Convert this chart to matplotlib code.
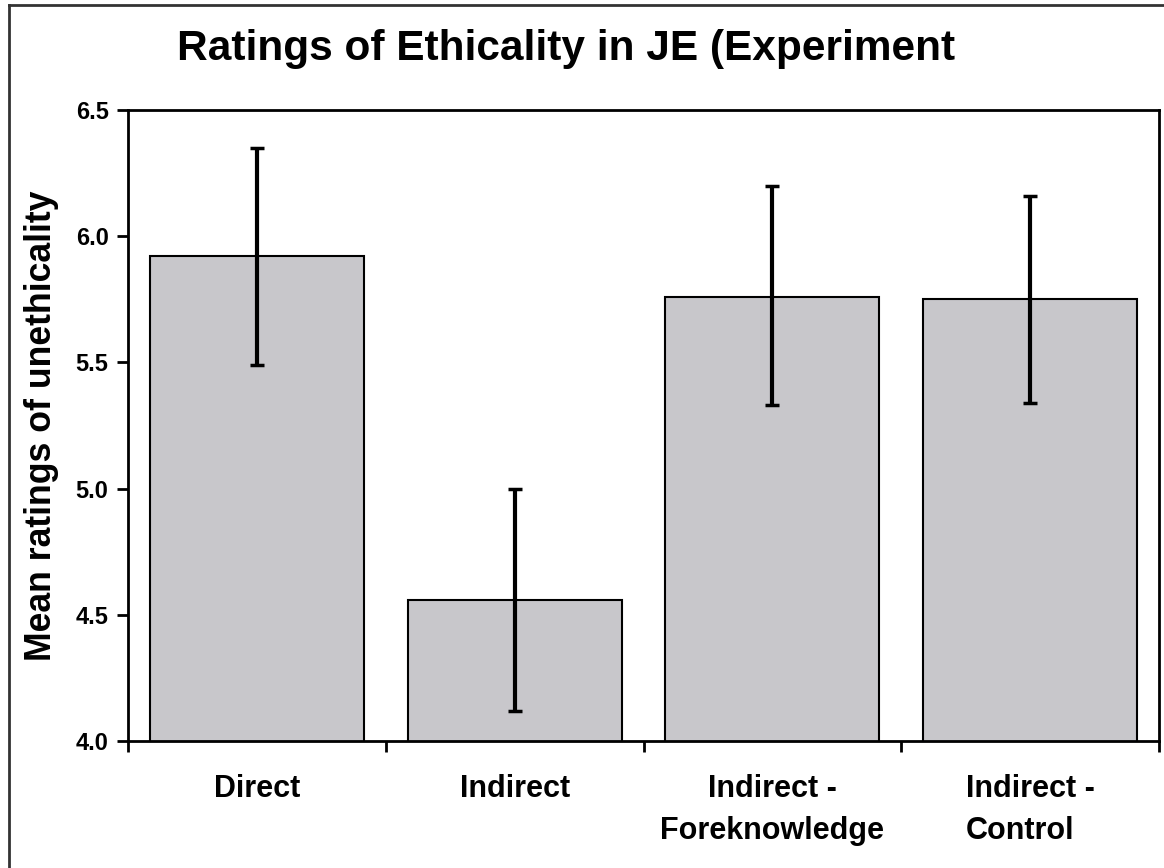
import numpy as np
import matplotlib
matplotlib.use("Agg")
import matplotlib.pyplot as plt
from matplotlib.lines import Line2D

plt.rcParams['font.family'] = ['Liberation Sans', 'DejaVu Sans']

# --- data ---
categories = ["Direct", "Indirect", "Indirect -\nForeknowledge", "Indirect -\nControl"]
means = [5.92, 4.56, 5.76, 5.75]
err_low = [5.49, 4.12, 5.33, 5.34]
err_high = [6.35, 5.00, 6.20, 6.16]
y_ticks = [4.0, 4.5, 5.0, 5.5, 6.0, 6.5]

means = np.array(means)
yerr = np.array([means - np.array(err_low), np.array(err_high) - means])
x = np.arange(len(categories))

fig = plt.figure(figsize=(11.64, 8.68), dpi=100)
ax = fig.add_axes([0.110, 0.1463, 0.8857, 0.7270])

ax.bar(x, means, width=0.83, color='#c8c7cb', edgecolor='black', linewidth=1.5, zorder=2)
ax.errorbar(x, means, yerr=yerr, fmt='none', ecolor='black', elinewidth=3,
            capsize=5, capthick=2.5, zorder=3)

ax.set_xlim(-0.5, len(categories) - 0.5)
ax.set_ylim(4.0, 6.5)

# y axis
ax.set_yticks(y_ticks)
ax.set_yticklabels([f"{t:.1f}" for t in y_ticks], fontsize=17, fontweight='bold')
ax.tick_params(axis='y', direction='out', length=8, width=2, pad=6)

# x axis: ticks at category boundaries, labels at centres
ax.set_xticks(np.arange(len(categories) + 1) - 0.5)
ax.set_xticklabels([])
ax.tick_params(axis='x', which='major', direction='out', length=8, width=2)
ax.set_xticks(x, minor=True)
ax.set_xticklabels(categories, minor=True, fontsize=22, fontweight='bold',
                   linespacing=1.5)
ax.tick_params(axis='x', which='minor', length=0, pad=24)
for lbl in ax.get_xticklabels(minor=True):
    lbl.set_verticalalignment('top')
ax.get_xticklabels(minor=True)[-1].set_multialignment('left')

for s in ax.spines.values():
    s.set_linewidth(2)
    s.set_color('black')

ax.set_ylabel("Mean ratings of unethicality", fontsize=25.7, fontweight='bold')
ax.yaxis.set_label_coords(-0.067, 0.5)

fig.text(0.486, 0.944, "Ratings of Ethicality in JE (Experiment", fontsize=30.5,
         fontweight='bold', ha='center', va='center')

# outer frame (only left and top edges visible)
fig.add_artist(Line2D([0.0075, 0.0075], [0.0, 0.994], transform=fig.transFigure,
                      color='#333333', linewidth=2))
fig.add_artist(Line2D([0.0075, 1.0], [0.994, 0.994], transform=fig.transFigure,
                      color='#333333', linewidth=2))

fig.savefig("out.png", dpi=100)
